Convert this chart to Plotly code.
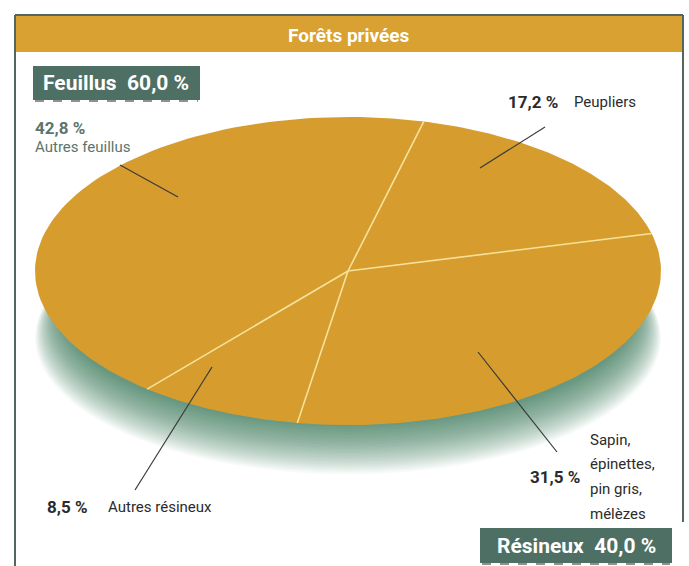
import numpy as np
import plotly.graph_objects as go

# ---- data ----
species = ["Peupliers", "Sapin, épinettes, pin gris, mélèzes", "Autres résineux", "Autres feuillus"]
shares = [17.2, 31.5, 8.5, 42.8]
share_labels = ["17,2 %", "31,5 %", "8,5 %", "42,8 %"]
groups = ["Feuillus", "Résineux"]
group_shares = ["60,0 %", "40,0 %"]
title = "Forêts privées"

W, H = 689, 566
CX, CY, RX, RY = 348, 271, 313, 154   # ellipse in pixels
START = 76                            # degrees, first slice edge

PIE = "#D69D2E"
TEAL = "#4E6F64"
INK = "#2b2b2b"
FONT = "Roboto, Liberation Sans, sans-serif"


def px(x):
    return x / W


def py(y):
    return 1 - y / H


fig = go.Figure()

# slices, clockwise from START
edges = START - 360 * np.concatenate([[0], np.cumsum(shares)]) / 100
for i, name in enumerate(species):
    a = np.radians(np.linspace(edges[i], edges[i + 1], 80))
    fig.add_trace(go.Scatter(
        x=np.concatenate([[0], np.cos(a), [0]]),
        y=np.concatenate([[0], np.sin(a), [0]]),
        mode="lines", fill="toself", fillcolor=PIE,
        line=dict(width=0, color=PIE),
        name=name, hoverinfo="text", text=f"{name} {share_labels[i]}",
        showlegend=False
    ))

# separator lines
for e in edges[:-1]:
    r = np.radians(e)
    fig.add_trace(go.Scatter(
        x=[0, np.cos(r)], y=[0, np.sin(r)], mode="lines",
        line=dict(width=1.6, color="#F6E29A"),
        hoverinfo="skip", showlegend=False
    ))

shapes = []

# soft shadow under the ellipse
n = 36
for k in range(n):
    t = k / (n - 1)
    shapes.append(dict(
        type="circle", xref="x", yref="y", layer="below",
        x0=-(0.92 + 0.08 * t), x1=(0.92 + 0.08 * t),
        y0=-1.0 - 0.32 * t, y1=0.5 - 0.05 * t,
        fillcolor="#2E5E55", opacity=0.028, line=dict(width=0)
    ))

# frame and title bar
shapes += [
    dict(type="line", xref="paper", yref="paper", x0=px(15), x1=px(15), y0=0, y1=py(15),
         line=dict(color="#55655f", width=2)),
    dict(type="line", xref="paper", yref="paper", x0=px(683), x1=px(683), y0=py(522), y1=py(15),
         line=dict(color="#55655f", width=2)),
    dict(type="line", xref="paper", yref="paper", x0=px(15), x1=px(683), y0=py(15), y1=py(15),
         line=dict(color="#55655f", width=2)),
    dict(type="rect", xref="paper", yref="paper", x0=px(16), x1=px(682), y0=py(52), y1=py(16),
         fillcolor="#D8A131", line=dict(width=0)),
    dict(type="rect", xref="paper", yref="paper", x0=px(33), x1=px(200), y0=py(100), y1=py(66),
         fillcolor=TEAL, line=dict(width=0)),
    dict(type="rect", xref="paper", yref="paper", x0=px(480), x1=px(672), y0=py(563), y1=py(528),
         fillcolor=TEAL, line=dict(width=0)),
    dict(type="line", xref="paper", yref="paper", x0=px(35), x1=px(198), y0=py(101), y1=py(101),
         line=dict(color="#222", width=1, dash="dash")),
    dict(type="line", xref="paper", yref="paper", x0=px(482), x1=px(670), y0=py(564), y1=py(564),
         line=dict(color="#222", width=1, dash="dash")),
]

# leader lines
leaders = [((545, 127), (480, 168)), ((557, 452), (478, 352)),
           ((135, 490), (212, 367)), ((120, 165), (178, 197))]
for (x0, y0), (x1, y1) in leaders:
    shapes.append(dict(type="line", xref="paper", yref="paper",
                       x0=px(x0), y0=py(y0), x1=px(x1), y1=py(y1),
                       line=dict(color="#3a3a3a", width=1.2)))

ann = []


def text(x, y, s, size, color=INK, bold=False, xanchor="left"):
    ann.append(dict(x=px(x), y=py(y), xref="paper", yref="paper", showarrow=False,
                    text=f"<b>{s}</b>" if bold else s, xanchor=xanchor, yanchor="middle",
                    align="left", font=dict(family=FONT, size=size, color=color)))


text(349, 35, title, 19, "white", True, "center")
text(116, 83, f"{groups[0]}  {group_shares[0]}", 21, "white", True, "center")
text(576, 546, f"{groups[1]}  {group_shares[1]}", 21, "white", True, "center")

text(560, 102, share_labels[0], 17, bold=True, xanchor="right")
text(572, 102, species[0], 15)
text(582, 477, share_labels[1], 17, bold=True, xanchor="right")
sapin = species[1].split(", ")
for j, part in enumerate(sapin):
    text(588, 440 + 24.5 * j, part + ("," if j < len(sapin) - 1 else ""), 15)
text(45, 507, share_labels[2], 17, bold=True)
text(106, 507, species[2], 15)
text(33, 128, share_labels[3], 17, "#5b756c", True)
text(33, 147, species[3], 15, "#5b756c")

fig.update_layout(
    width=W, height=H,
    margin=dict(l=0, r=0, t=0, b=0),
    paper_bgcolor="white", plot_bgcolor="white",
    xaxis=dict(range=[-CX / RX, (W - CX) / RX], visible=False, fixedrange=True),
    yaxis=dict(range=[-(H - CY) / RY, CY / RY], visible=False, fixedrange=True),
    shapes=shapes, annotations=ann,
    showlegend=False,
)

fig.write_html("out.html", config={"displayModeBar": False},
               post_script="document.body.style.margin='0';")
